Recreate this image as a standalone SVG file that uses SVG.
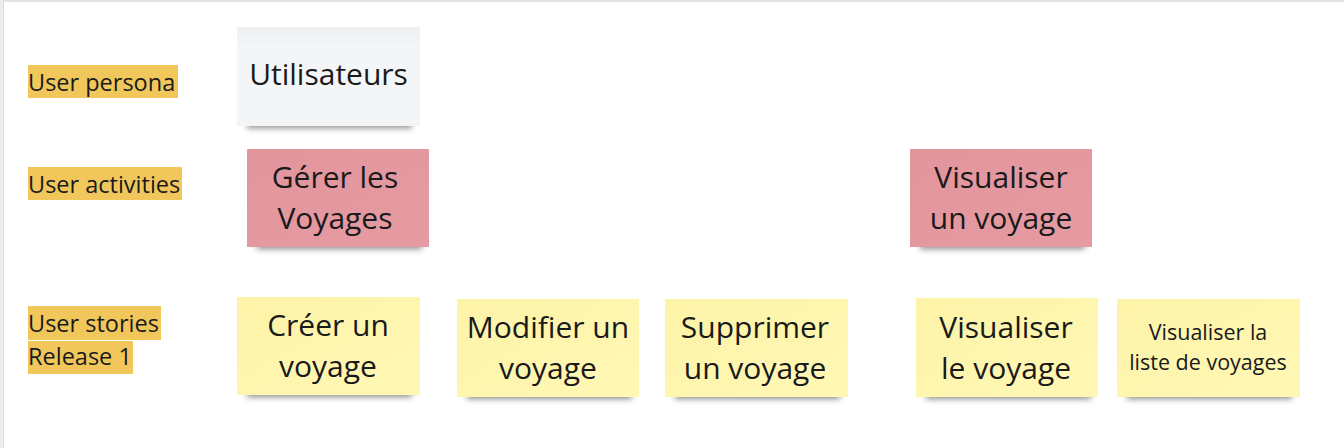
<svg xmlns="http://www.w3.org/2000/svg" width="1344" height="448" viewBox="0 0 1344 448">
<defs>
<filter id="blur" x="-20%" y="-100%" width="140%" height="300%"><feGaussianBlur stdDeviation="3"/></filter>
<linearGradient id="yel" x1="0" y1="0" x2="1" y2="1"><stop offset="0" stop-color="#fdf3a8"/><stop offset="1" stop-color="#fff8b5"/></linearGradient>
<linearGradient id="pink" x1="0" y1="0" x2="1" y2="1"><stop offset="0" stop-color="#e2959c"/><stop offset="1" stop-color="#e69aa1"/></linearGradient>
<linearGradient id="grey" x1="0" y1="0" x2="0" y2="1"><stop offset="0" stop-color="#eeeff1"/><stop offset="0.2" stop-color="#f4f5f7"/><stop offset="1" stop-color="#f4f5f7"/></linearGradient>
</defs>
<style>
.lbl{fill:#f1c75b}
.lt{font-family:"Open Sans","Noto Sans",sans-serif;font-size:23.5px;fill:#1a1a1a}
.st{font-family:"Open Sans","Noto Sans",sans-serif;font-size:30px;fill:#1a1a1a;text-anchor:middle}
.ss{font-family:"Open Sans","Noto Sans",sans-serif;font-size:21.5px;fill:#1a1a1a;text-anchor:middle}
.sh{fill:#000;opacity:0.45;filter:url(#blur)}
.y{fill:url(#yel)}
.p{fill:url(#pink)}
.g{fill:url(#grey)}
</style>
<rect width="1344" height="448" fill="#ffffff"/>
<rect x="0" y="0" width="1344" height="2" fill="#e3e3e3"/>
<rect x="0" y="0" width="4" height="448" fill="#ececec"/>
<rect x="3" y="0" width="1" height="448" fill="#dcdcdc"/>

<g id="label-persona">
<rect class="lbl" x="28" y="65" width="150" height="33"/>
<text class="lt" x="28" y="91">User persona</text>
</g>
<g id="label-activities">
<rect class="lbl" x="28" y="167" width="154" height="33"/>
<text class="lt" x="28" y="193">User activities</text>
</g>
<g id="label-stories">
<rect class="lbl" x="28" y="306" width="133" height="34"/>
<rect class="lbl" x="28" y="341" width="105" height="33"/>
<text class="lt" x="28" y="332">User stories</text>
<text class="lt" x="28" y="365">Release 1</text>
</g>

<g id="utilisateurs">
<rect class="sh" x="247" y="116" width="165" height="12"/>
<rect class="g" x="237" y="27" width="183" height="99"/>
<text class="st" x="328.5" y="85">Utilisateurs</text>
</g>
<g id="gerer">
<rect class="sh" x="257" y="237" width="165" height="12"/>
<rect class="p" x="247" y="149" width="182" height="98"/>
<text class="st" x="335" y="188">Gérer les</text>
<text class="st" x="335" y="229">Voyages</text>
</g>
<g id="visualiser-un">
<rect class="sh" x="920" y="237" width="165" height="12"/>
<rect class="p" x="910" y="149" width="182" height="98"/>
<text class="st" x="1001" y="188">Visualiser</text>
<text class="st" x="1001" y="229">un voyage</text>
</g>
<g id="creer">
<rect class="sh" x="247" y="385" width="165" height="12"/>
<rect class="y" x="237" y="297" width="183" height="98"/>
<text class="st" x="328" y="336">Créer un</text>
<text class="st" x="328" y="377">voyage</text>
</g>
<g id="modifier">
<rect class="sh" x="467" y="387" width="165" height="12"/>
<rect class="y" x="457" y="299" width="182" height="98"/>
<text class="st" x="548" y="338">Modifier un</text>
<text class="st" x="548" y="379">voyage</text>
</g>
<g id="supprimer">
<rect class="sh" x="675" y="387" width="165" height="12"/>
<rect class="y" x="665" y="299" width="183" height="98"/>
<text class="st" x="755" y="338">Supprimer</text>
<text class="st" x="755" y="379">un voyage</text>
</g>
<g id="visualiser-le">
<rect class="sh" x="926" y="387" width="165" height="12"/>
<rect class="y" x="916" y="298" width="182" height="99"/>
<text class="st" x="1006" y="338">Visualiser</text>
<text class="st" x="1006" y="379">le voyage</text>
</g>
<g id="visualiser-liste">
<rect class="sh" x="1127" y="387" width="165" height="12"/>
<rect class="y" x="1117" y="299" width="183" height="98"/>
<text class="ss" x="1208" y="340">Visualiser la</text>
<text class="ss" x="1208" y="370">liste de voyages</text>
</g>
<g id="connectors"></g>
</svg>
